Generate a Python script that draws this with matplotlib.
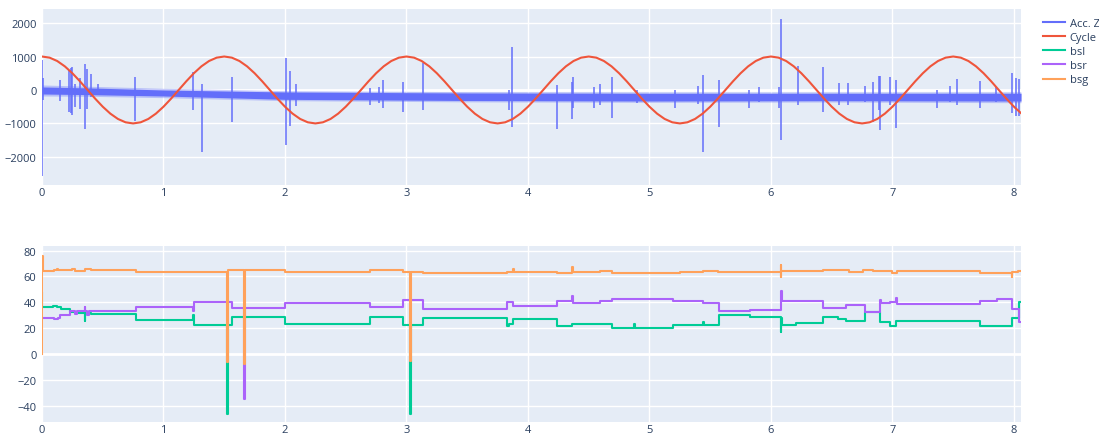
import numpy as np
import matplotlib.pyplot as plt
from matplotlib.lines import Line2D

# ---- top panel: Acc. Z (noise band + spikes) and Cycle ----
# envelope of the dense Acc. Z noise band (core and fuzzy fringe)
ACC_X = [0, 0.4, 1.0, 2.0, 3.5, 5.0, 6.5, 8.0, 8.058]
ACC_HI = [90, 60, 0, -60, -90, -100, -100, -100, -100]
ACC_LO = [-120, -140, -180, -280, -315, -330, -320, -330, -330]
ACC_FRINGE_HI = [150, 110, 50, -20, -50, -60, -60, -60, -60]
ACC_FRINGE_LO = [-180, -190, -230, -320, -355, -370, -360, -380, -380]

# isolated spikes of Acc. Z
SPIKE_X = [0.004, 0.008, 0.15, 0.22, 0.235, 0.25, 0.27, 0.31, 0.354, 0.373, 0.40, 0.46,
           0.765, 1.245, 1.32, 1.56, 2.008, 2.04, 2.09, 2.70, 2.77, 2.81, 2.97, 3.14,
           3.84, 3.87, 4.24, 4.36, 4.37, 4.54, 4.59, 4.69, 4.90, 5.21, 5.40, 5.44,
           5.57, 5.82, 5.90, 6.07, 6.08, 6.22, 6.43, 6.56, 6.63, 6.77, 6.84, 6.89,
           6.90, 6.98, 7.03, 7.37, 7.47, 7.53, 7.72, 7.85, 7.98, 8.02, 8.04]
SPIKE_TOP = [905, 360, 308, 600, 650, 700, 180, 358, 766, 627, 478, 180,
             378, 527, 180, 398, 955, 577, 175, 60, 90, 308, 248, 796,
             0, 1274, 150, 250, 398, 80, 180, 378, 0, 0, 110, 448,
             298, 0, 100, 80, 2119, 726, 677, 220, 220, 110, 250, 428,
             430, 398, 298, 0, 110, 328, 270, 80, 497, 348, 340]
SPIKE_BOT = [-2558, -300, -320, -650, -700, -760, -500, -560, -1164, -560, -200, -130,
             -915, -597, -1841, -965, -1632, -1065, -468, -440, -400, -547, -647, -597,
             -597, -1115, -1164, -866, -550, -547, -450, -846, -400, -547, -420, -1840,
             -1115, -547, -350, -550, -1483, -450, -667, -450, -450, -350, -965, -600,
             -1184, -450, -1134, -547, -350, -450, -547, -350, -677, -766, -780]

# Cycle, read every 0.0625 from x = 0
CYCLE_STEP = 0.0625
CYCLE_Y = [1000, 966, 866, 707, 500, 259, 0, -259, -500, -707, -866, -966,
           -1000, -966, -866, -707, -500, -259, 0, 259, 500, 707, 866, 966,
           1000, 966, 866, 707, 500, 259, 0, -259, -500, -707, -866, -966,
           -1000, -966, -866, -707, -500, -259, 0, 259, 500, 707, 866, 966,
           1000, 966, 866, 707, 500, 259, 0, -259, -500, -707, -866, -966,
           -1000, -966, -866, -707, -500, -259, 0, 259, 500, 707, 866, 966,
           1000, 966, 866, 707, 500, 259, 0, -259, -500, -707, -866, -966,
           -1000, -966, -866, -707, -500, -259, 0, 259, 500, 707, 866, 966,
           1000, 966, 866, 707, 500, 259, 0, -259, -500, -707, -866, -966,
           -1000, -966, -866, -707, -500, -259, 0, 259, 500, 707, 866, 966,
           1000, 966, 866, 707, 500, 259, 0, -259, -500, -707]

# ---- bottom panel: step series ----
BSL_X = [0, 0.004, 0.09, 0.12, 0.16, 0.23, 0.30, 0.35, 0.357, 0.40, 0.77, 1.245, 1.255,
         1.52, 1.527, 1.56, 2.0, 2.70, 2.97, 3.03, 3.037, 3.14, 3.83, 3.84, 3.88, 4.24,
         4.36, 4.69, 4.87, 4.877, 5.19, 5.44, 5.447, 5.57, 5.83, 6.08, 6.084, 6.09, 6.21,
         6.43, 6.55, 6.62, 6.77, 6.90, 6.98, 7.03, 7.72, 7.98, 8.04, 8.058]
BSL_Y = [47, 36.5, 37.5, 36.5, 34.5, 32.4, 31.5, 25.5, 32, 31.1, 26.7, 30, 22.8,
         -46, 22.8, 28.5, 23.3, 28.5, 22.6, -46, 22.6, 28, 22, 23.3, 26.9, 21.9,
         23.3, 20, 23.3, 20, 22.6, 25, 22.6, 29.8, 28.5, 16.8, 28, 22.6, 23.9,
         28.5, 27.2, 25.5, 32.4, 24.6, 22, 25.5, 21.3, 28, 40, 40]

BSR_X = [0, 0.10, 0.13, 0.15, 0.23, 0.27, 0.29, 0.35, 0.357, 0.37, 0.39, 0.77, 1.245,
         1.252, 1.56, 1.66, 1.667, 2.0, 2.70, 2.97, 3.14, 3.83, 3.88, 4.24, 4.36, 4.367,
         4.59, 4.69, 5.19, 5.44, 5.57, 5.83, 6.08, 6.087, 6.43, 6.62, 6.77, 6.90, 6.907,
         6.98, 7.03, 7.037, 7.72, 7.86, 7.98, 8.04, 8.058]
BSR_Y = [27.8, 27, 27.8, 29.8, 33.5, 31, 33.5, 36, 33, 30.5, 33.5, 36.3, 33,
         40.2, 35.5, -35, 35.5, 39.7, 36.3, 41.5, 35, 40.2, 37.4, 41, 45, 39.4,
         40.7, 42.3, 41, 39.7, 32.9, 34.4, 49, 41, 35.9, 38.2, 32.4, 42, 39.4,
         40.2, 43, 38.9, 41, 42.8, 35, 25, 25]

BSG_X = [0, 0.003, 0.007, 0.10, 0.12, 0.13, 0.25, 0.27, 0.35, 0.40, 0.77, 1.25,
         1.52, 1.527, 1.66, 1.667, 2.0, 2.70, 2.97, 3.03, 3.037, 3.14, 3.83, 3.88,
         3.887, 4.24, 4.36, 4.367, 4.59, 4.69, 5.19, 5.25, 5.44, 5.56, 6.08, 6.083,
         6.086, 6.43, 6.64, 6.76, 6.84, 7.0, 7.04, 7.72, 7.98, 7.987, 8.03, 8.058]
BSG_Y = [0, 76, 64.5, 65, 65.8, 65, 65.7, 64.3, 65.5, 64.8, 63.4, 63.2,
         -6, 64.6, -8, 64.6, 63.6, 64.8, 63.6, -5, 63.6, 62.8, 63.3, 66,
         63.3, 62.4, 66.9, 63.6, 64.5, 62.4, 62.8, 63.6, 64.4, 63.3, 68.5, 59.6,
         64.4, 65, 63.6, 65, 64.2, 62.4, 64.4, 62.4, 59.6, 63.6, 64.4, 64.4]

BG = '#E5ECF6'
FONT_COLOR = '#2a3f5f'
plt.rcParams['font.family'] = ['Open Sans', 'DejaVu Sans']

fig = plt.figure(figsize=(10.99, 4.35), dpi=100)
ax1 = fig.add_axes([42 / 1099, 1 - 186 / 435, 979 / 1099, 176 / 435])
ax2 = fig.add_axes([42 / 1099, 1 - 423 / 435, 979 / 1099, 176 / 435])


def style(ax, yticks):
    ax.set_facecolor(BG)
    for s in ax.spines.values():
        s.set_visible(False)
    ax.set_xlim(0, 8.058)
    ax.set_xticks(range(0, 9))
    ax.set_yticks(yticks)
    ax.grid(True, color='white', linewidth=1)
    ax.set_axisbelow(True)
    ax.axhline(0, color='white', linewidth=2, zorder=0.5)
    ax.tick_params(length=0, labelsize=8, labelcolor=FONT_COLOR)
    ax.tick_params(axis='y', pad=4)
    ax.tick_params(axis='x', pad=1.5)


style(ax1, [-2000, -1000, 0, 1000, 2000])
style(ax2, [-40, -20, 0, 20, 40, 60, 80])
ax1.set_ylim(-2840, 2420)
ax2.set_ylim(-52.5, 83.5)

blue = '#636EFA'
ax1.fill_between(ACC_X, ACC_FRINGE_LO, ACC_FRINGE_HI, color=blue, alpha=0.35,
                 linewidth=0, zorder=2)
ax1.fill_between(ACC_X, ACC_LO, ACC_HI, color=blue, linewidth=0, zorder=2)
ax1.vlines(SPIKE_X, SPIKE_BOT, SPIKE_TOP, color=blue, linewidth=1.1, zorder=2)
cycle_x = np.arange(len(CYCLE_Y)) * CYCLE_STEP
ax1.plot(cycle_x, CYCLE_Y, color='#EF553B', linewidth=1.5, zorder=3)

ax2.plot(BSL_X, BSL_Y, color='#00CC96', linewidth=1.5, drawstyle='steps-post', zorder=2)
ax2.plot(BSR_X, BSR_Y, color='#AB63FA', linewidth=1.5, drawstyle='steps-post', zorder=2)
ax2.plot(BSG_X, BSG_Y, color='#FFA15A', linewidth=1.5, drawstyle='steps-post', zorder=2)

names = ['Acc. Z', 'Cycle', 'bsl', 'bsr', 'bsg']
colors = [blue, '#EF553B', '#00CC96', '#AB63FA', '#FFA15A']
handles = [Line2D([], [], color=c, linewidth=1.5) for c in colors]
fig.legend(handles, names, loc='upper left', bbox_to_anchor=(1043 / 1099, 1 - 19 / 435),
           frameon=False, fontsize=8, handlelength=2.0, handletextpad=0.4,
           labelspacing=0.28, borderpad=0, borderaxespad=0, labelcolor=FONT_COLOR)

fig.savefig('out.png', dpi=100)
